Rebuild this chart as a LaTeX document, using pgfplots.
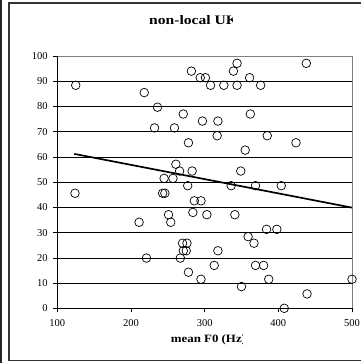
\documentclass[border=0pt]{standalone}
\usepackage{pgfplots}
\pgfplotsset{compat=1.18}
\usepackage{graphicx}
\usepackage{fontspec}
\setmainfont{Liberation Serif}

\pgfplotstableread{
x y
125 88.4
218 85.5
236 79.7
232 71.5
259 71.5
271 77
278 65.6
282 94
294 91.4
301 91.4
297 74.2
308 88.4
326 88.4
344 88.4
344 97.1
339 94
361 91.4
376 88.4
438 97.1
318 74.2
362 77
317 68.4
385 68.4
424 65.6
355 62.7
261 57.1
266 54.4
283 54.4
349 54.4
245 51.5
257 51.5
277 48.6
336 48.6
369 48.6
404 48.6
124 45.6
243 45.6
246 45.6
286 42.6
295 42.6
251 37.1
284 38
303 37.1
341 37.1
211 34.1
254 34.1
384 31.3
398 31.3
359 28.4
367 25.8
270 25.8
276 25.8
271 22.8
275 22.8
318 22.8
221 19.9
267 19.9
313 17
369 17
380 17
278 14.3
295 11.5
387 11.5
500 11.5
350 8.6
439 5.7
408 0
}\pts

\begin{document}
\begin{tikzpicture}
\useasboundingbox (-57.3pt,-54.7pt) rectangle (303.7pt,308.3pt);
\draw[line width=2pt, black!85] (-56.1pt,-54.7pt) -- (-56.1pt,308.3pt);
\draw[line width=1.3pt, black!80] (303.7pt,305.3pt) -- (-48.3pt,305.3pt) -- (-48.3pt,-52.2pt) -- (303.7pt,-52.2pt);
\begin{axis}[
  at={(0pt,0pt)}, anchor=south west,
  scale only axis, width=294.7pt, height=252.3pt,
  xmin=100, xmax=500, ymin=0, ymax=100,
  xtick={100,200,300,400,500}, ytick={0,10,...,100},
  ymajorgrids, major grid style={black, line width=0.6pt},
  axis line style={draw=none},
  tick style={black, line width=0.6pt},
  tick align=outside, major tick length=4pt,
  xtick pos=bottom, ytick pos=left,
  ticklabel style={font=\fontsize{10.5}{11}\selectfont},
  /pgf/number format/assume math mode=true,
  yticklabel style={xshift=-2.2pt},
  xticklabel style={yshift=-3.5pt},
  clip=false,
]
\addplot[only marks, mark=o, mark size=4.3pt, mark options={line width=0.7pt, black}] table[x=x,y=y] {\pts};
\addplot[black, line width=1.7pt] coordinates {(123,61.2) (500,39.9)};
\draw[gray, line width=0.8pt] (rel axis cs:0,1) -- (rel axis cs:1,1) -- (rel axis cs:1,0);
\draw[black, line width=0.8pt] (rel axis cs:0,1) -- (rel axis cs:0,0) -- (rel axis cs:1,0);
\end{axis}
\begin{scope}
\clip (91.7pt,270pt) rectangle (174.7pt,300pt);
\node[anchor=base west, inner sep=0pt] at (91.7pt,283.3pt) {\scalebox{1.2}[1]{\fontsize{13}{15}\selectfont\bfseries non-local UK}};
\end{scope}
\begin{scope}
\clip (113.4pt,-45pt) rectangle (184.7pt,-20pt);
\node[anchor=base west, inner sep=0pt] at (113.4pt,-34pt) {\scalebox{1.15}[1]{\fontsize{11.2}{13}\selectfont\bfseries mean F0 (Hz)}};
\end{scope}
\end{tikzpicture}
\end{document}
